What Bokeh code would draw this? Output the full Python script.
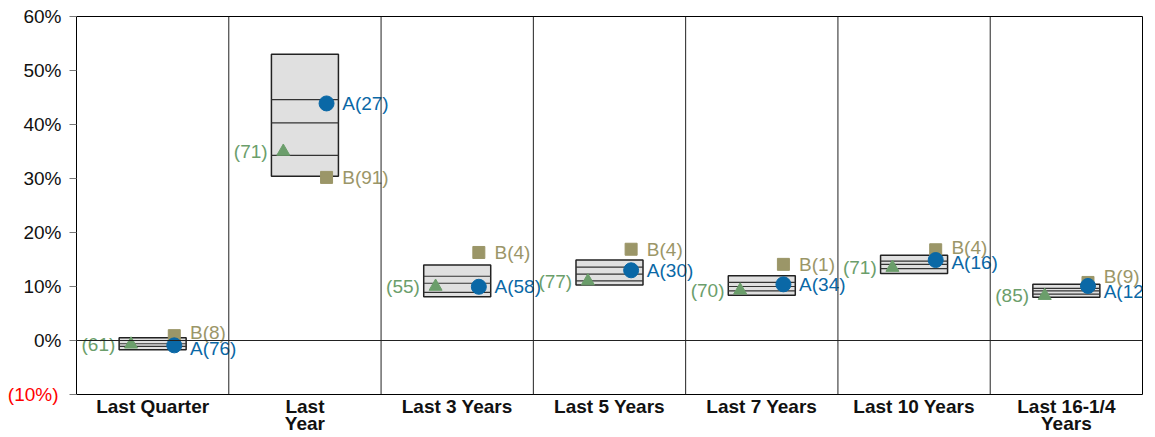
from bokeh.plotting import figure
from bokeh.models import FixedTicker, Span, ColumnDataSource, LinearAxis
from bokeh.embed import file_html
from bokeh.resources import INLINE

# ---- data ----
categories = ["Last Quarter", "Last\nYear", "Last 3 Years", "Last 5 Years",
              "Last 7 Years", "Last 10 Years", "Last 16-1/4\nYears"]
p95 = [0.5, 53.0, 14.0, 14.9, 12.0, 15.8, 10.4]
p75 = [0.0, 44.6, 11.9, 13.6, 10.75, 14.7, 9.65]
p50 = [-0.6, 40.3, 10.6, 12.3, 10.0, 14.1, 9.2]
p25 = [-1.1, 34.3, 8.9, 11.05, 9.2, 13.3, 8.6]
p05 = [-1.7, 30.4, 8.1, 10.3, 8.4, 12.4, 8.0]

a_values = [-0.9, 43.9, 9.95, 13.0, 10.4, 14.9, 10.1]
a_ranks = [76, 27, 58, 30, 34, 16, 12]
b_values = [0.9, 30.2, 16.3, 16.9, 14.1, 16.8, 10.75]
b_ranks = [8, 91, 4, 4, 1, 4, 9]
t_values = [-0.7, 35.0, 10.0, 11.0, 9.3, 13.5, 8.3]
t_ranks = [61, 71, 55, 77, 70, 71, 85]

y_ticks = [-10, 0, 10, 20, 30, 40, 50, 60]

# ---- styles ----
BLUE = "#0a68a6"
OLIVE = "#9b9668"
GREEN = "#6b9e6b"
FONT = "Liberation Sans"
FS = "19px"

n = len(categories)
centers = [i + 0.5 for i in range(n)]
BOX_HALF = 0.22
MARK_OFF = 0.142
LAB_OFF = 0.245

p = figure(width=1155, height=437, x_range=(0, n), y_range=(-10, 60),
           output_backend="svg", toolbar_location=None,
           min_border_left=76, min_border_right=13, min_border_top=16,
           min_border_bottom=0)
p.outline_line_color = "black"
p.outline_line_width = 1
p.grid.visible = False
p.background_fill_color = "white"


def style_y(ax, color):
    ax.major_label_text_font = FONT
    ax.major_label_text_font_size = FS
    ax.major_label_text_color = color
    ax.major_tick_in = 0
    ax.major_tick_line_color = "#777777"
    ax.minor_tick_line_color = None
    ax.axis_line_color = None


# main y axis: all ticks, labels in black for non-negative values
p.yaxis.ticker = FixedTicker(ticks=y_ticks)
p.yaxis.major_label_overrides = {t: (f"{t}%" if t >= 0 else "") for t in y_ticks}
style_y(p.yaxis[0], "#111111")
p.yaxis.major_tick_out = 7
p.yaxis.major_label_standoff = 8

# negative tick labels in red, in parentheses (pulled back next to the frame)
neg_ticks = [t for t in y_ticks if t < 0]
neg_axis = LinearAxis(ticker=FixedTicker(ticks=neg_ticks),
                      major_label_overrides={t: f"({abs(t)}%)" for t in neg_ticks})
style_y(neg_axis, "red")
neg_axis.major_tick_out = 0
neg_axis.major_tick_line_color = None
neg_axis.major_label_standoff = -38
p.add_layout(neg_axis, "left")

p.xaxis.ticker = FixedTicker(ticks=centers)
p.xaxis.major_label_overrides = {c: lab for c, lab in zip(centers, categories)}
p.xaxis.major_label_text_font = FONT
p.xaxis.major_label_text_font_style = "bold"
p.xaxis.major_label_text_font_size = FS
p.xaxis.major_label_text_color = "#111111"
p.xaxis.major_label_text_line_height = 0.85
p.xaxis.major_tick_line_color = None
p.xaxis.major_tick_out = 0
p.xaxis.major_tick_in = 0
p.xaxis.minor_tick_line_color = None
p.xaxis.axis_line_color = None
p.xaxis.major_label_standoff = 1

# separators and zero line
for k in range(1, n):
    p.add_layout(Span(location=k, dimension="height", line_color="#222222", line_width=1))
p.add_layout(Span(location=0, dimension="width", line_color="#222222", line_width=1))

# boxes
box_src = ColumnDataSource(dict(
    left=[c - BOX_HALF for c in centers], right=[c + BOX_HALF for c in centers],
    top=p95, bottom=p05))
p.quad(left="left", right="right", top="top", bottom="bottom", source=box_src,
       fill_color="#e0e0e0", line_color="#222222", line_width=1.5)
for arr in (p75, p50, p25):
    p.segment(x0=[c - BOX_HALF for c in centers], x1=[c + BOX_HALF for c in centers],
              y0=arr, y1=arr, line_color="#333333", line_width=1.2)

# markers
p.scatter([c - MARK_OFF for c in centers], t_values, marker="triangle", size=13,
          fill_color=GREEN, line_color=GREEN)
p.scatter([c + MARK_OFF for c in centers], b_values, marker="square", size=12,
          fill_color=OLIVE, line_color=OLIVE)
p.scatter([c + MARK_OFF for c in centers], a_values, marker="circle", size=15,
          fill_color=BLUE, line_color=BLUE)

# label positions: spread A/B labels apart when they would overlap
MIN_GAP = 2.8
a_lab_y, b_lab_y = [], []
for a, b in zip(a_values, b_values):
    if abs(b - a) < MIN_GAP:
        mid = (a + b) / 2
        sgn = 1 if b >= a else -1
        b_lab_y.append(mid + sgn * MIN_GAP / 2)
        a_lab_y.append(mid - sgn * MIN_GAP / 2)
    else:
        a_lab_y.append(a)
        b_lab_y.append(b)

p.text([c + LAB_OFF for c in centers], a_lab_y, text=[f"A({r})" for r in a_ranks],
       text_color=BLUE, text_font_size=FS, text_align="left",
       text_baseline="middle", text_font={"value": FONT})
p.text([c + LAB_OFF for c in centers], b_lab_y, text=[f"B({r})" for r in b_ranks],
       text_color=OLIVE, text_font_size=FS, text_align="left",
       text_baseline="middle", text_font={"value": FONT})
p.text([c - LAB_OFF for c in centers], t_values, text=[f"({r})" for r in t_ranks],
       text_color=GREEN, text_font_size=FS, text_align="right",
       text_baseline="middle", text_font={"value": FONT})

open("out.html", "w").write(file_html(p, INLINE))
